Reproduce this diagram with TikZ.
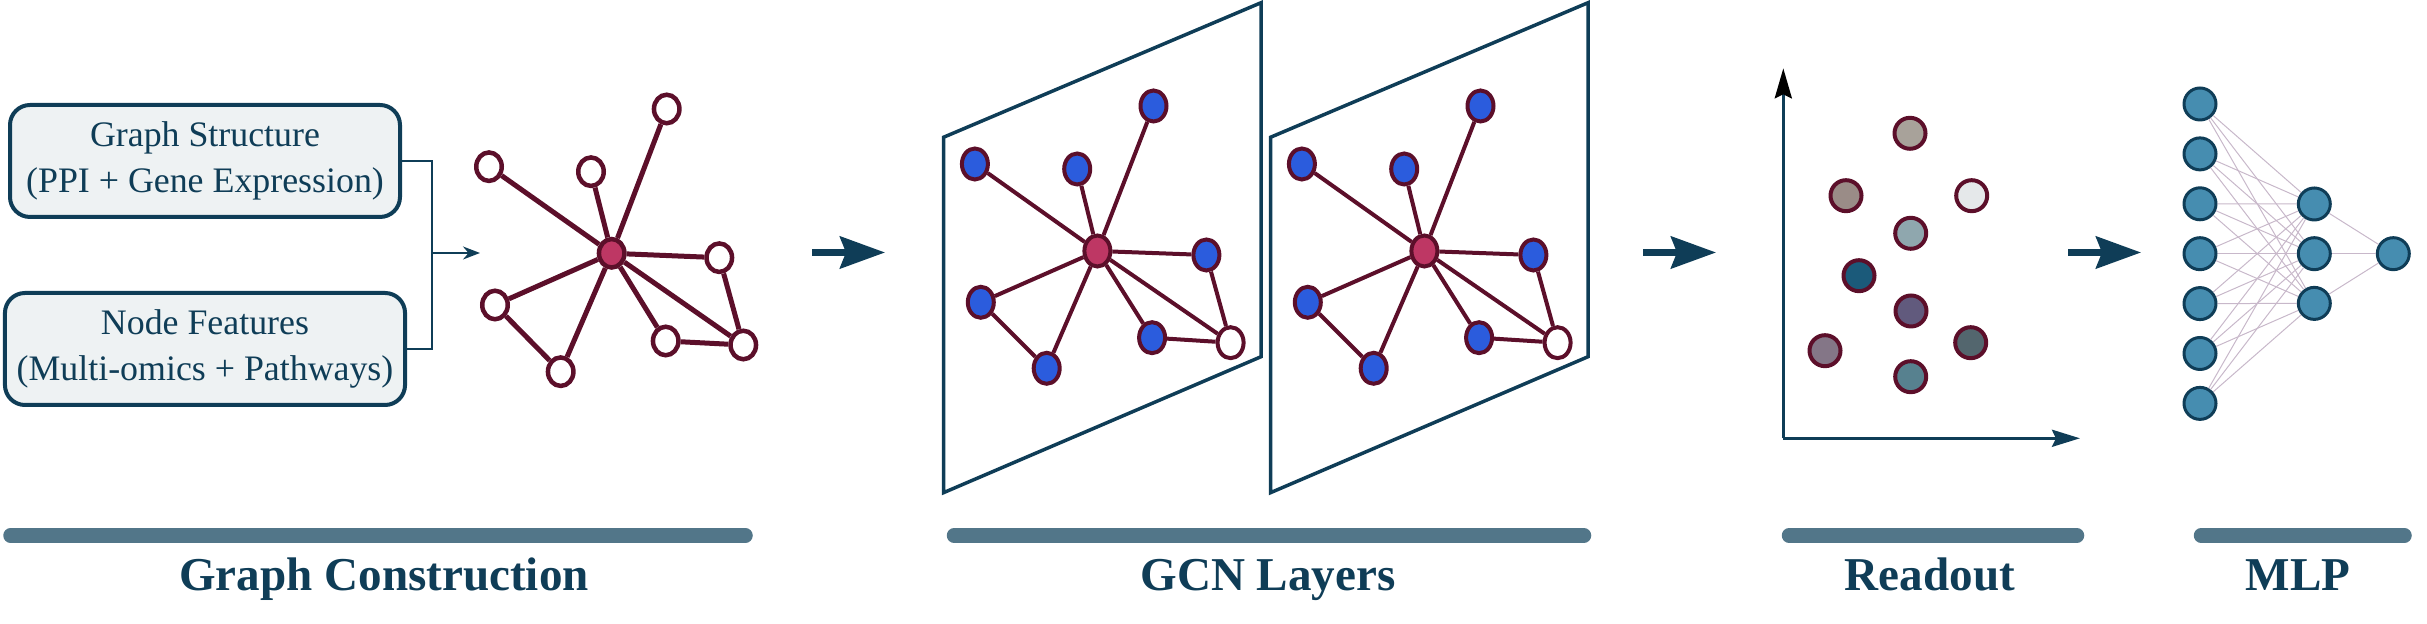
\documentclass[tikz,border=0pt]{standalone}
\usepackage{fontspec}
\setmainfont{Liberation Serif}
\usetikzlibrary{arrows.meta, shapes.geometric}

\definecolor{navy}{RGB}{15,61,87}
\definecolor{boxfill}{RGB}{238,242,243}
\definecolor{barcol}{RGB}{82,118,137}
\definecolor{maroon}{RGB}{92,15,42}
\definecolor{hub}{RGB}{190,55,100}
\definecolor{featblue}{RGB}{43,92,221}
\definecolor{mlpfill}{RGB}{70,141,176}
\definecolor{wirecol}{RGB}{200,184,202}

%	readout colours
\definecolor{ra}{RGB}{168,162,154}
\definecolor{rb}{RGB}{154,140,135}
\definecolor{rc}{RGB}{229,232,234}
\definecolor{rd}{RGB}{143,167,174}
\definecolor{re}{RGB}{27,90,122}
\definecolor{rf}{RGB}{97,90,125}
\definecolor{rg}{RGB}{132,118,135}
\definecolor{rh}{RGB}{83,102,110}
\definecolor{ri}{RGB}{87,129,143}

\tikzset{
	inbox/.style = {draw = navy, line width = 0.4mm, fill = boxfill, rounded corners = 2mm,
		minimum width = 39mm, minimum height = 11.2mm, align = center, text = navy,
		font = \fontsize{10.2}{13.1}\selectfont},
	joinline/.style = {navy, line width = 0.2mm},
	gnode/.style = {ellipse, draw = maroon, line width = 0.45mm, fill = white,
		minimum width = 2.55mm, minimum height = 2.85mm, inner sep = 0pt},
	hubnode/.style = {gnode, fill = hub},
	link/.style = {maroon, line width = 0.5mm},
	pnode/.style = {ellipse, draw = maroon, line width = 0.4mm, fill = featblue,
		minimum width = 2.6mm, minimum height = 3.1mm, inner sep = 0pt},
	plink/.style = {maroon, line width = 0.4mm},
	layerframe/.style = {draw = navy, line width = 0.35mm},
	stagearrow/.style = {navy, line width = 0.63mm, -{Stealth[length = 4.5mm, width = 3.2mm, inset = 0.6mm]}},
	axis/.style = {navy, line width = 0.33mm},
	dot/.style = {circle, draw = maroon, line width = 0.4mm, minimum size = 3.1mm, inner sep = 0pt},
	neuron/.style = {circle, draw = navy, line width = 0.3mm, fill = mlpfill, minimum size = 3.2mm, inner sep = 0pt},
	wire/.style = {wirecol, line width = 0.1mm},
	stagebar/.style = {barcol, line width = 1.45mm, line cap = round},
	stagetitle/.style = {text = navy, anchor = base, font = \fontsize{13.4}{16}\selectfont\bfseries}
}

\begin{document}
\begin{tikzpicture}[x = 0.1mm, y = -0.1mm]
	\useasboundingbox (0, 0) rectangle (2427, 624);
	
	%	input boxes
	\node[inbox] (gs) at (205, 161) {Graph Structure\\(PPI + Gene Expression)};
	\node[inbox] (nf) at (205, 349) {Node Features\\(Multi-omics + Pathways)};
	
	\coordinate (merge) at (432, 253);
	\coordinate (feed) at (480, 253);
	\draw[joinline] (gs.east) -| (merge);
	\draw[joinline] (nf.east) -| (merge);
	\draw[joinline, -{Stealth[length = 1.7mm, width = 1.3mm]}] (merge) -- (feed);
	
	%	input graph
	\node[hubnode] (g-c) at (611.7, 253.3) {};
	\node[gnode] (g-1) at (666.7, 109) {};
	\node[gnode] (g-2) at (489, 166.7) {};
	\node[gnode] (g-3) at (591, 171.7) {};
	\node[gnode] (g-4) at (719.3, 257.7) {};
	\node[gnode] (g-5) at (495, 305) {};
	\node[gnode] (g-6) at (560.7, 371.7) {};
	\node[gnode] (g-7) at (665.7, 341) {};
	\node[gnode] (g-8) at (743.3, 345) {};
	\foreach \n in {1,...,8}
		\draw[link] (g-c) -- (g-\n);
	\draw[link] (g-5) -- (g-6);
	\draw[link] (g-4) -- (g-8);
	\draw[link] (g-7) -- (g-8);
	
	%	stage arrows
	\coordinate (a1s) at (812, 252.5);
	\coordinate (a1e) at (885, 252.5);
	\coordinate (a2s) at (1643, 252.5);
	\coordinate (a2e) at (1716, 252.5);
	\coordinate (a3s) at (2068, 252.5);
	\coordinate (a3e) at (2141, 252.5);
	\draw[stagearrow] (a1s) -- (a1e);
	\draw[stagearrow] (a2s) -- (a2e);
	\draw[stagearrow] (a3s) -- (a3e);
	
	%	gcn layers
	\foreach \p/\dx in {a/0, b/327}
	{
		\begin{scope}[shift = {(\dx, 0)}]
			\draw[layerframe] (943.5, 137.3) -- (1261.1, 2.7) -- (1261.1, 356.7) -- (943.5, 492.7) -- cycle;
			\node[pnode, fill = hub] (\p-c) at (1097.4, 251) {};
			\node[pnode] (\p-1) at (1153.5, 106) {};
			\node[pnode] (\p-2) at (974.9, 164) {};
			\node[pnode] (\p-3) at (1077.2, 169) {};
			\node[pnode] (\p-4) at (1206.4, 255) {};
			\node[pnode] (\p-5) at (980.8, 302.3) {};
			\node[pnode] (\p-6) at (1046.7, 368.3) {};
			\node[pnode] (\p-7) at (1152.1, 337.7) {};
			\node[pnode, fill = white] (\p-8) at (1230.6, 342.7) {};
			\foreach \n in {1,...,8}
				\draw[plink] (\p-c) -- (\p-\n);
			\draw[plink] (\p-5) -- (\p-6);
			\draw[plink] (\p-4) -- (\p-8);
			\draw[plink] (\p-7) -- (\p-8);
		\end{scope}
	}
	
	%	readout
	\coordinate (origin) at (1783.3, 438.3);
	\coordinate (ytop) at (1783.3, 68.3);
	\coordinate (xend) at (2080, 438.3);
	\draw[axis, -{Stealth[length = 3mm, width = 1.7mm, inset = 0.4mm, black]}] (origin) -- (ytop);
	\draw[axis, -{Stealth[length = 2.8mm, width = 1.7mm, inset = 0.4mm]}] (origin) -- (xend);
	\foreach \c/\x/\y in {ra/1910/133.3, rb/1846/195.7, rc/1971.7/195.7, rd/1910.7/233.3, re/1859/275.7,
		rf/1911/311, rg/1825/350.7, rh/1970.7/342.7, ri/1910.7/376.7}
		\node[dot, fill = \c] (dot-\c) at (\x, \y) {};
	
	%	mlp
	\foreach \i in {1,...,7}
		\node[neuron] (in-\i) at (2200, {104 + 49.9*(\i - 1)}) {};
	\foreach \j in {1,2,3}
		\node[neuron] (hid-\j) at (2314.3, {204 + 49.7*(\j - 1)}) {};
	\node[neuron] (out) at (2393.3, 253.7) {};
	\foreach \i in {1,...,7}
		\foreach \j in {1,2,3}
			\draw[wire] (in-\i) -- (hid-\j);
	\foreach \j in {1,2,3}
		\draw[wire] (hid-\j) -- (out);
	
	%	stage bars and titles
	\draw[stagebar] (10.5, 535.5) -- (745.5, 535.5);
	\draw[stagebar] (954, 535.5) -- (1584, 535.5);
	\draw[stagebar] (1789, 535.5) -- (2077, 535.5);
	\draw[stagebar] (2201, 535.5) -- (2404.5, 535.5);
	\node[stagetitle] (t-graph) at (384, 591) {Graph Construction};
	\node[stagetitle] (t-gcn) at (1268, 591) {GCN Layers};
	\node[stagetitle] (t-read) at (1930, 591) {Readout};
	\node[stagetitle] (t-mlp) at (2298, 591) {MLP};
\end{tikzpicture}
\end{document}
